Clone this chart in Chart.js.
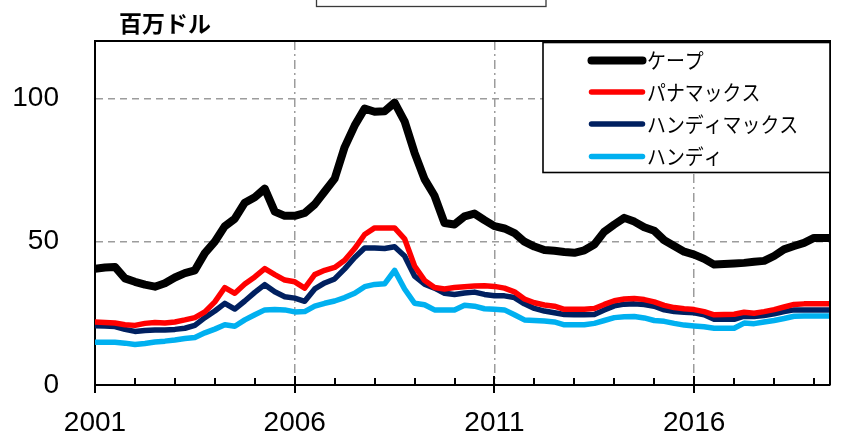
<!DOCTYPE html>
<html>
<head>
<meta charset="utf-8">
<script src="https://cdn.jsdelivr.net/npm/chart.js@4/dist/chart.umd.min.js"></script>
<style>
html,body{margin:0;padding:0;background:#fff;}
#wrap{position:relative;width:845px;height:435px;}
canvas{display:block;}
</style>
</head>
<body>
<div id="wrap"><canvas id="c" width="845" height="435"></canvas></div>
<script>
// ---- data ----
const dates = [
  2001.00, 2001.25, 2001.50, 2001.75,
  2002.00, 2002.25, 2002.50, 2002.75,
  2003.00, 2003.25, 2003.50, 2003.75,
  2004.00, 2004.25, 2004.50, 2004.75,
  2005.00, 2005.25, 2005.50, 2005.75,
  2006.00, 2006.25, 2006.50, 2006.75,
  2007.00, 2007.25, 2007.50, 2007.75,
  2008.00, 2008.25, 2008.50, 2008.75,
  2009.00, 2009.25, 2009.50, 2009.75,
  2010.00, 2010.25, 2010.50, 2010.75,
  2011.00, 2011.25, 2011.50, 2011.75,
  2012.00, 2012.25, 2012.50, 2012.75,
  2013.00, 2013.25, 2013.50, 2013.75,
  2014.00, 2014.25, 2014.50, 2014.75,
  2015.00, 2015.25, 2015.50, 2015.75,
  2016.00, 2016.25, 2016.50, 2016.75,
  2017.00, 2017.25, 2017.50, 2017.75,
  2018.00, 2018.25, 2018.50, 2018.75,
  2019.00, 2019.25, 2019.40
];
const seriesNames = ['ケープ', 'パナマックス', 'ハンディマックス', 'ハンディ'];
const cape = [
  40.5, 41, 41.2, 37.2,
  36, 35, 34.3, 35.5,
  37.5, 39, 40, 46,
  50, 55.4, 58, 63.6,
  65.5, 68.5, 60.5, 59,
  59, 60, 63, 67.5,
  72, 83, 90.5, 96.4,
  95.3, 95.5, 98.5, 92,
  81, 71.8, 66, 56.5,
  56, 58.8, 59.8, 57.5,
  55.4, 54.6, 53, 50,
  48.3, 47.1, 46.8, 46.4,
  46.1, 47, 49, 53.5,
  56, 58.3, 57, 55,
  53.8, 50.5, 48.5, 46.5,
  45.5, 44, 42, 42.2,
  42.4, 42.6, 43, 43.3,
  45, 47.3, 48.5, 49.6,
  51.3, 51.3, 51.3
];
const panamax = [
  22, 21.8, 21.6, 21,
  20.8, 21.5, 21.8, 21.6,
  22, 22.7, 23.5, 25.5,
  29, 34, 32, 35.2,
  37.7, 40.6, 38.5, 36.6,
  36, 33.8, 38.5, 40,
  41, 43.5, 47.6, 52.5,
  54.8, 54.8, 54.8, 51,
  41.5, 36.5, 34, 33.5,
  34, 34.3, 34.5, 34.6,
  34.4, 33.8, 32.5, 30,
  28.7, 27.9, 27.5, 26.4,
  26.4, 26.4, 26.7, 28.1,
  29.4, 30, 30.2, 29.8,
  29, 27.8, 27, 26.6,
  26.3, 25.6, 24.5, 24.6,
  24.7, 25.4, 25, 25.6,
  26.3, 27.2, 28.1, 28.3,
  28.3, 28.3, 28.3
];
const handymax = [
  20.7, 20.6, 20.4, 19.4,
  18.7, 19, 19.2, 19.2,
  19.4, 19.8, 20.8, 23.5,
  25.8, 28.5, 26.5, 29.3,
  32.3, 35, 32.5, 30.8,
  30.3, 29.2, 33.5, 35.6,
  37, 40.5, 44.5, 47.8,
  47.8, 47.6, 48.2, 45,
  38, 35.2, 33.8, 32,
  31.6, 32.1, 32.4, 31.6,
  31.1, 31.1, 30.5, 28.3,
  26.7, 25.8, 25.2, 24.6,
  24.5, 24.5, 24.6, 26.2,
  27.6, 28.2, 28.3, 28.1,
  27.5, 26.2, 25.6, 25.4,
  25.2, 24.5, 22.9, 22.9,
  22.9, 24, 23.9, 24.2,
  24.8, 25.6, 26.2, 26.2,
  26.2, 26.2, 26.2
];
const handy = [
  14.9, 14.9, 14.9, 14.6,
  14.1, 14.5, 15, 15.3,
  15.7, 16.2, 16.6, 18.2,
  19.5, 21, 20.5, 22.7,
  24.5, 26.2, 26.3, 26.2,
  25.5, 25.6, 27.5, 28.5,
  29.3, 30.5, 32, 34.3,
  35.1, 35.3, 40, 33.5,
  28.5, 28, 26.2, 26.2,
  26.2, 27.8, 27.5, 26.6,
  26.4, 26.2, 24.5, 22.7,
  22.5, 22.3, 22, 21,
  21, 21, 21.5, 22.5,
  23.5, 23.8, 23.9, 23.4,
  22.5, 22.2, 21.5, 20.9,
  20.6, 20.3, 19.8, 19.8,
  19.8, 21.6, 21.4, 22,
  22.5, 23.2, 24, 24.1,
  24.1, 24.1, 24.1
];
const yTicks = [0, 50, 100];
const xTickYears = [2001, 2006, 2011, 2016];
const minorTickYears = [2002, 2003, 2004, 2005, 2007, 2008, 2009, 2010, 2012, 2013, 2014, 2015, 2017, 2018, 2019];
const unitLabel = '百万ドル';

// ---- styles ----
const colors = ['#000000', '#ff0000', '#002060', '#00b0f0'];
const widths = [8, 5.5, 5.5, 5.5];
const labelFont = "'Liberation Sans', Arial, sans-serif";
const cjkFont = "'Noto Sans CJK JP', sans-serif";
const gridGray = '#9c9c9c';

const seriesValues = [cape, panamax, handymax, handy];
const datasets = seriesValues.map((vals, i) => ({
  label: seriesNames[i],
  data: dates.map((d, k) => ({ x: d, y: vals[k] })),
  borderColor: colors[i],
  backgroundColor: colors[i],
  borderWidth: widths[i],
  pointRadius: 0,
  tension: 0,
  borderJoinStyle: 'round',
  borderCapStyle: 'round',
  order: i
}));

const decorPlugin = {
  id: 'decor',
  afterDatasetsDraw(chart) {
    const { ctx, chartArea: a, scales: { x } } = chart;
    ctx.save();
    ctx.strokeStyle = '#000';
    ctx.lineWidth = 2;
    ctx.beginPath();
    ctx.moveTo(a.left, a.top);
    ctx.lineTo(a.right, a.top);
    ctx.lineTo(a.right, a.bottom);
    ctx.stroke();
    ctx.beginPath();
    xTickYears.forEach(yr => {
      const px = Math.round(x.getPixelForValue(yr));
      ctx.moveTo(px, a.bottom - 9);
      ctx.lineTo(px, a.bottom + 8);
    });
    minorTickYears.forEach(yr => {
      const px = Math.round(x.getPixelForValue(yr));
      ctx.moveTo(px, a.bottom - 7);
      ctx.lineTo(px, a.bottom);
    });
    ctx.stroke();
    ctx.restore();
  },
  afterDraw(chart) {
    const { ctx, chartArea: a } = chart;
    ctx.save();
    ctx.strokeStyle = '#3a3a3a';
    ctx.lineWidth = 1.3;
    ctx.strokeRect(316.5, -10, 229.5, 16.5);
    ctx.fillStyle = '#000';
    ctx.font = "bold 23px " + cjkFont;
    ctx.textAlign = 'left';
    ctx.textBaseline = 'middle';
    ctx.fillText(unitLabel, 119, 23);
    const lx = 543, ly = 42.5, lr = a.right, lb = 172.5;
    ctx.fillStyle = '#fff';
    ctx.fillRect(lx, ly, lr - lx, lb - ly);
    ctx.strokeStyle = '#000';
    ctx.lineWidth = 1.6;
    ctx.strokeRect(lx, ly, lr - lx, lb - ly);
    const rows = [60.5, 92, 124, 156.5];
    chart.data.datasets.forEach((ds, i) => {
      ctx.strokeStyle = ds.borderColor;
      ctx.lineWidth = ds.borderWidth;
      ctx.lineCap = 'round';
      ctx.beginPath();
      ctx.moveTo(591.5, rows[i]);
      ctx.lineTo(642.5, rows[i]);
      ctx.stroke();
      ctx.save();
      ctx.translate(647, rows[i]);
      ctx.scale(0.9, 1);
      ctx.fillStyle = '#000';
      ctx.font = "21px " + cjkFont;
      ctx.textBaseline = 'middle';
      ctx.fillText(ds.label, 0, 0);
      ctx.restore();
    });
    ctx.restore();
  }
};

new Chart(document.getElementById('c'), {
  type: 'line',
  data: { datasets },
  options: {
    responsive: false,
    animation: false,
    devicePixelRatio: 1,
    layout: { padding: { left: 0, top: 41, right: 15, bottom: 0 } },
    plugins: { legend: { display: false }, title: { display: false }, tooltip: { enabled: false } },
    scales: {
      x: {
        type: 'linear',
        min: 2001,
        max: 2019.4,
        afterBuildTicks: s => { s.ticks = xTickYears.map(v => ({ value: v })); },
        afterFit: s => { s.height = 50; s.paddingLeft = 0; s.paddingRight = 0; },
        ticks: {
          font: { family: labelFont, size: 28 },
          color: '#000',
          padding: 21,
          maxRotation: 0,
          autoSkip: false,
          callback: v => String(v)
        },
        grid: {
          drawTicks: false,
          color: c => (c.tick && c.tick.value === 2001) ? 'rgba(0,0,0,0)' : gridGray,
          lineWidth: 1.5
        },
        border: { display: true, color: '#000', width: 2, dash: [9, 4, 2, 4] }
      },
      y: {
        type: 'linear',
        min: 0,
        max: 120,
        afterBuildTicks: s => { s.ticks = yTicks.map(v => ({ value: v })); },
        afterFit: s => { s.width = 95; s.paddingTop = 0; s.paddingBottom = 0; },
        ticks: {
          font: { family: labelFont, size: 28 },
          color: '#000',
          padding: 36,
          callback: v => String(v)
        },
        grid: {
          drawTicks: false,
          color: c => (c.tick && c.tick.value === 0) ? 'rgba(0,0,0,0)' : gridGray,
          lineWidth: 1.5
        },
        border: { display: true, color: '#000', width: 2, dash: [7, 5] }
      }
    }
  },
  plugins: [decorPlugin]
});
</script>
</body>
</html>
